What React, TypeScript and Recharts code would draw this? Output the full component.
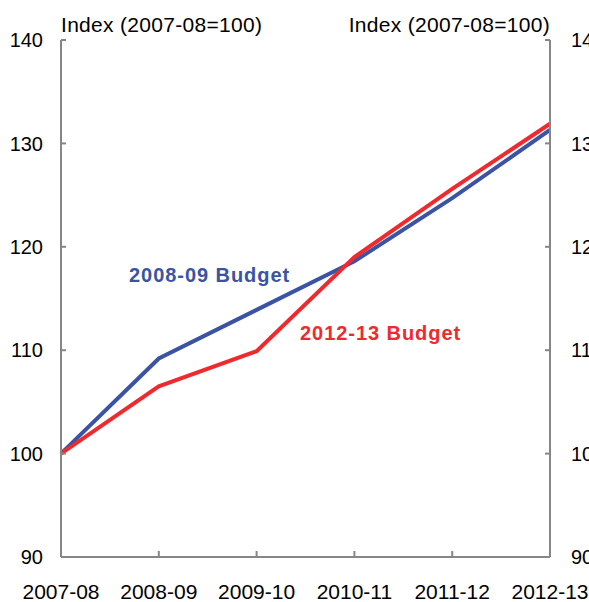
import React from "react";
import { LineChart, Line, XAxis, YAxis, Customized } from "recharts";

const YEARS = ["2007-08", "2008-09", "2009-10", "2010-11", "2011-12", "2012-13"];
const BUDGET_0809 = [100, 109.2, 113.9, 118.6, 124.7, 131.3];
const BUDGET_1213 = [100, 106.5, 109.9, 119.0, 125.6, 131.9];
const Y_TICKS = [90, 100, 110, 120, 130, 140];

const BLUE = "#3A53A4";
const RED = "#EE2A2E";
const AXIS = "#868686";
const FONT = "'Liberation Sans', Arial, sans-serif";

const data = YEARS.map((year, i) => ({ year, b0809: BUDGET_0809[i], b1213: BUDGET_1213[i] }));

const Y_MARGIN = 16;
const X_MARGIN = 8;

function LeftTick({ x, y, payload }: any) {
  const ax = x + Y_MARGIN;
  return (
    <g>
      <line x1={ax} x2={ax + 5} y1={y} y2={y} stroke={AXIS} strokeWidth={2} />
      <text x={ax - 18} y={y} dy="0.36em" textAnchor="end" fontSize={20} fill="#000" fontFamily={FONT}>
        {payload.value}
      </text>
    </g>
  );
}

function RightTick({ x, y, payload }: any) {
  const ax = x - Y_MARGIN;
  return (
    <g>
      <line x1={ax} x2={ax - 5} y1={y} y2={y} stroke={AXIS} strokeWidth={2} />
      <text x={ax + 21} y={y} dy="0.36em" textAnchor="start" fontSize={20} fill="#000" fontFamily={FONT}>
        {payload.value}
      </text>
    </g>
  );
}

function BottomTick({ x, y, payload }: any) {
  const ay = y - X_MARGIN;
  return (
    <g>
      <line x1={x} x2={x} y1={ay} y2={ay - 6} stroke={AXIS} strokeWidth={2} />
      <text x={x} y={ay + 42} textAnchor="middle" fontSize={21} fill="#000" fontFamily={FONT}>
        {payload.value}
      </text>
    </g>
  );
}

function Labels() {
  return (
    <g fontFamily={FONT}>
      <text x={61} y={32} fontSize={21} fill="#000" letterSpacing={0.3}>Index (2007-08=100)</text>
      <text x={550} y={32} fontSize={21} fill="#000" letterSpacing={0.3} textAnchor="end">Index (2007-08=100)</text>
      <text x={129} y={282} fontSize={20} fontWeight="bold" fill={BLUE} letterSpacing={0.95}>2008-09 Budget</text>
      <text x={300} y={340} fontSize={20} fontWeight="bold" fill={RED} letterSpacing={0.95}>2012-13 Budget</text>
    </g>
  );
}

export default function App() {
  return (
    <div style={{ position: "absolute", left: 0, top: 0, width: 589, height: 602, overflow: "hidden", background: "#fff" }}>
      <LineChart width={620} height={602} data={data} margin={{ top: 40, right: 0, bottom: 0, left: 0 }}>
        <XAxis
          dataKey="year"
          height={45}
          axisLine={{ stroke: AXIS, strokeWidth: 2 }}
          tickLine={false}
          tickSize={0}
          tickMargin={X_MARGIN}
          interval={0}
          tick={<BottomTick />}
        />
        <YAxis
          yAxisId="left"
          width={61}
          domain={[90, 140]}
          ticks={Y_TICKS}
          axisLine={{ stroke: AXIS, strokeWidth: 2 }}
          tickLine={false}
          tickSize={0}
          tickMargin={Y_MARGIN}
          tick={<LeftTick />}
        />
        <YAxis
          yAxisId="right"
          orientation="right"
          width={70}
          domain={[90, 140]}
          ticks={Y_TICKS}
          axisLine={{ stroke: AXIS, strokeWidth: 2 }}
          tickLine={false}
          tickSize={0}
          tickMargin={Y_MARGIN}
          tick={<RightTick />}
        />
        <Line yAxisId="left" dataKey="b0809" stroke={BLUE} strokeWidth={4} dot={false} isAnimationActive={false} type="linear" />
        <Line yAxisId="right" dataKey="b1213" stroke={RED} strokeWidth={4} dot={false} isAnimationActive={false} type="linear" />
        <Customized component={Labels} />
      </LineChart>
    </div>
  );
}
